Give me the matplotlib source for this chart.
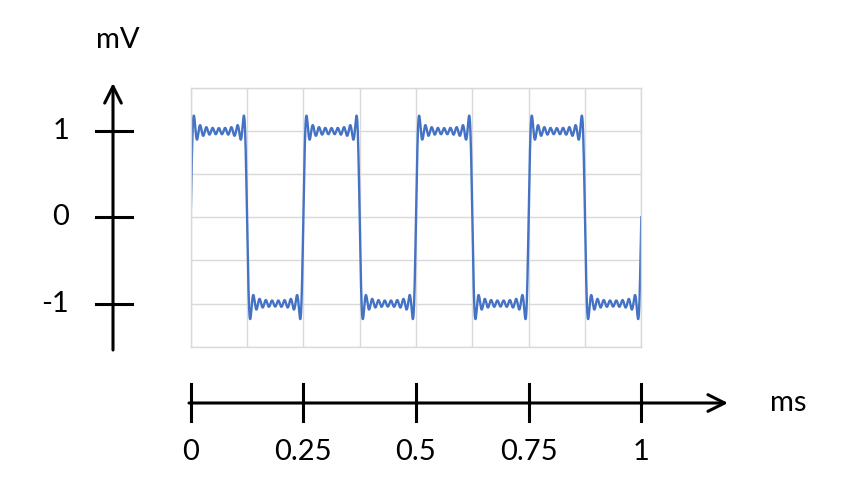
import numpy as np
import matplotlib

matplotlib.use('Agg')

import matplotlib.pyplot as plt
from matplotlib.transforms import blended_transform_factory

plt.rcParams['font.family'] = ['Lato', 'DejaVu Sans']

# Partial Fourier sum of a 4 kHz square wave (odd harmonics only)
FUNDAMENTAL_KHZ = 4.0
HARMONICS = [1, 3, 5, 7, 9, 11, 13, 15, 17]
AMPLITUDES_MV = [1.2732, 0.4244, 0.2546, 0.1819, 0.1415, 0.1157, 0.0979, 0.0849, 0.0749]

X_TICKS = [0, 0.25, 0.5, 0.75, 1]
X_TICK_LABELS = ['0', '0.25', '0.5', '0.75', '1']
Y_TICKS = [1, 0, -1]
Y_TICK_LABELS = ['1', '0', '-1']

BLUE = '#4472c4'
GRID = '#d9d9d9'
FS = 21

t = np.linspace(0, 1, 3000)
signal = np.zeros_like(t)
for k, a in zip(HARMONICS, AMPLITUDES_MV):
    signal += a * np.sin(2 * np.pi * k * FUNDAMENTAL_KHZ * t)

W, H = 846, 483
fig = plt.figure(figsize=(W / 100, H / 100), dpi=100)
fig.patch.set_facecolor('white')

ax = fig.add_axes([190.7 / W, 1 - 346.7 / H, 450.6 / W, 258.7 / H])
ax.plot(t, signal, color=BLUE, linewidth=1.7)
ax.set_xlim(0, 1)
ax.set_ylim(-1.5, 1.5)
ax.set_xticks(np.arange(0, 1.001, 0.125))
ax.set_yticks(np.arange(-1.5, 1.501, 0.5))
ax.grid(True, color=GRID, linewidth=1.0)
ax.set_axisbelow(True)
ax.tick_params(length=0, labelbottom=False, labelleft=False)
for s in ax.spines.values():
    s.set_color(GRID)
    s.set_linewidth(1.0)

lw = 2.2
arrow = dict(arrowstyle='->', lw=lw, color='black', mutation_scale=30,
             shrinkA=0, shrinkB=0)

# hand-drawn style y axis
yx = 113 / W
ax.annotate('', xy=(yx, 1 - 83 / H), xytext=(yx, 1 - 350 / H),
            xycoords='figure fraction', textcoords='figure fraction',
            arrowprops=arrow)
ty = blended_transform_factory(fig.transFigure, ax.transData)
for v, lab in zip(Y_TICKS, Y_TICK_LABELS):
    fig.add_artist(plt.Line2D([96 / W, 132 / W], [v, v], transform=ty,
                              color='black', lw=lw))
    fig.text(69 / W, v, lab, transform=ty, ha='right', va='center', fontsize=FS)
fig.text(118 / W, 1 - 40 / H, 'mV', ha='center', va='center', fontsize=FS)

# hand-drawn style x axis
xy_ = 1 - 403 / H
tx = blended_transform_factory(ax.transData, fig.transFigure)
ax.annotate('', xy=(728 / W, xy_), xytext=(189 / W, xy_),
            xycoords='figure fraction', textcoords='figure fraction',
            arrowprops=arrow)
for v, lab in zip(X_TICKS, X_TICK_LABELS):
    fig.add_artist(plt.Line2D([v, v], [1 - 384 / H, 1 - 421 / H], transform=tx,
                              color='black', lw=lw))
    fig.text(v, 1 - 452 / H, lab, transform=tx, ha='center', va='center', fontsize=FS)
fig.text(788 / W, xy_, 'ms', ha='center', va='center', fontsize=FS)

fig.savefig('out.png', dpi=100, facecolor='white')
